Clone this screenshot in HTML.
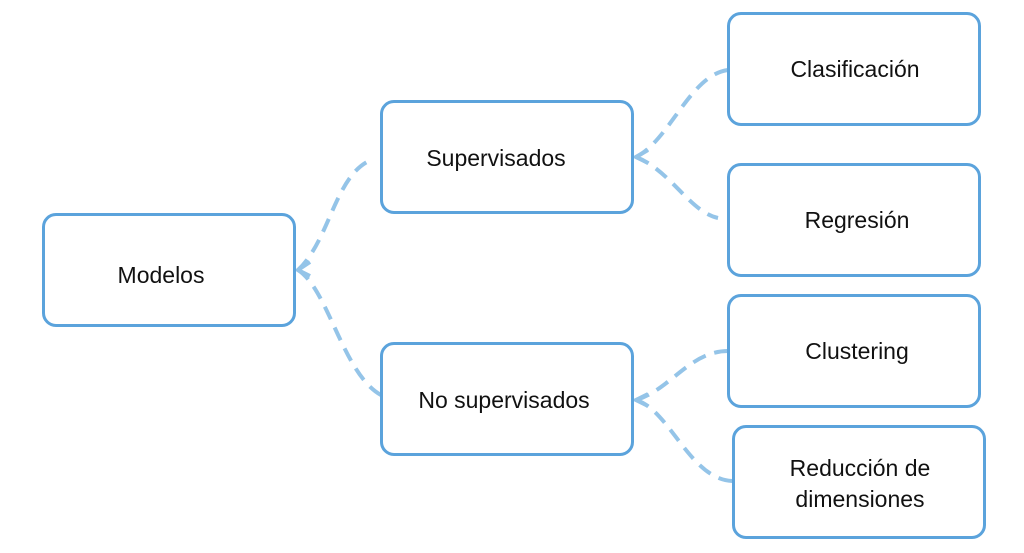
<!DOCTYPE html>
<html><head><style>
body{margin:0;width:1024px;height:553px;background:#fff;position:relative;overflow:hidden;font-family:"Liberation Sans",sans-serif;}
.b{position:absolute;box-sizing:border-box;border:3.5px solid #5ba3dc;border-radius:14px;width:254px;height:114px;display:flex;align-items:center;justify-content:center;text-align:center;font-size:23px;color:#111;line-height:31px;}
svg{position:absolute;left:0;top:0}
</style></head><body>
<svg width="1024" height="553"><g fill="none" stroke="#94c4e8" stroke-width="4" stroke-dasharray="14 9">
<path d="M298 270 C330 240,335 175,371 160"/>
<path d="M298 270 C330 290,345 385,388 398"/>
<path d="M636 157 C670 140,690 75,728 70"/>
<path d="M636 157 C670 170,690 212,718 218"/>
<path d="M636 400 C670 390,690 351,728 351"/>
<path d="M636 400 C670 410,690 480,733 481"/>
</g>
<g fill="none" stroke="#94c4e8" stroke-width="4">
<path d="M310 262 L298 270 L310 276"/>
<path d="M648 150 L636 157 L648 163"/>
<path d="M648 394 L636 400 L648 406"/>
</g></svg>
<div class="b" style="left:42px;top:213px;padding:10px 16px 0 0">Modelos</div>
<div class="b" style="left:380px;top:100px;padding:2px 22px 0 0">Supervisados</div>
<div class="b" style="left:380px;top:342px;padding:2px 6px 0 0">No supervisados</div>
<div class="b" style="left:727px;top:12px;padding:0 0 0 2px">Clasificación</div>
<div class="b" style="left:727px;top:163px;padding:0 0 0 6px">Regresión</div>
<div class="b" style="left:727px;top:294px;padding:0 0 0 6px">Clustering</div>
<div class="b" style="left:732px;top:425px;padding:4px 0 0 2px">Reducción de<br>dimensiones</div>
</body></html>
